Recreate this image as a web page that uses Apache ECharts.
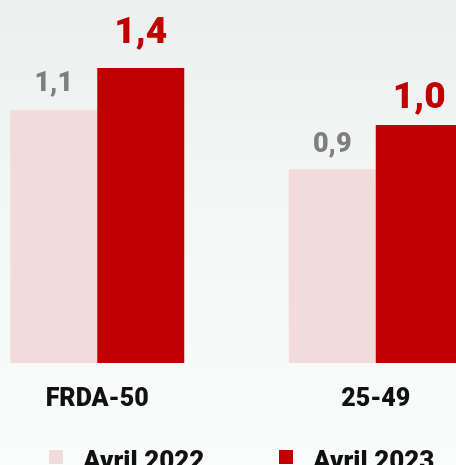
<!DOCTYPE html>
<html>
<head>
<meta charset="utf-8">
<title>Avril 2022 / Avril 2023</title>
<script src="https://cdn.jsdelivr.net/npm/echarts@6/dist/echarts.min.js"></script>
<style>
  html, body {
    margin: 0;
    padding: 0;
  }
  body {
    background: linear-gradient(to bottom, #edefef 0%, #f5f6f6 45%, #fafbfb 100%);
  }
  #chart {
    width: 456px;
    height: 465px;
  }
</style>
</head>
<body>
<div id="chart"></div>
<script>
// catégories et séries
const categories = ['FRDA-50', '25-49']
const seriesNames = ['Avril 2022', 'Avril 2023']
// valeurs affichées au-dessus des barres
const labels2022 = ['1,1', '0,9']
const labels2023 = ['1,4', '1,0']
// hauteur des barres (le graphique source n'est pas à l'échelle)
const heights2022 = [1.2, 0.92]
const heights2023 = [1.4, 1.13]

const FONT = 'Roboto, "Open Sans", sans-serif'

// écart étiquette / barre, par catégorie
function buildData(heights, labels, gaps) {
  return heights.map((v, i) => ({
    value: v,
    label: { formatter: labels[i], distance: gaps[i] }
  }))
}

function legendItem(name, left) {
  return {
    data: [name],
    left: left,
    top: 439,
    padding: 0,
    icon: 'rect',
    itemWidth: 14,
    itemHeight: 14,
    selectedMode: false,
    formatter: '{t|{name}}',
    textStyle: {
      rich: {
        t: {
          color: '#111',
          fontFamily: FONT,
          fontWeight: 900,
          fontSize: 26,
          lineHeight: 26,
          padding: [10, 0, 0, 15]
        }
      }
    }
  }
}

const chart = echarts.init(document.getElementById('chart'))
const option = {
  backgroundColor: 'transparent',
  animation: false,
  grid: {
    left: -42,
    width: 557,
    top: 47,
    bottom: 102,
    containLabel: false,
    outerBoundsMode: 'none'
  },
  legend: [legendItem(seriesNames[0], 49), legendItem(seriesNames[1], 279)],
  xAxis: {
    type: 'category',
    data: categories,
    axisLine: { show: false },
    axisTick: { show: false },
    axisLabel: {
      margin: 24,
      color: '#111',
      fontFamily: FONT,
      fontWeight: 900,
      fontSize: 25
    }
  },
  yAxis: {
    type: 'value',
    min: 0,
    max: 1.5,
    show: false,
    splitLine: { show: false }
  },
  series: [
    {
      name: seriesNames[0],
      type: 'bar',
      barWidth: 87,
      barGap: '0%',
      itemStyle: { color: '#f2dcdb' },
      label: {
        show: true,
        position: 'top',
        color: '#7f7f7f',
        fontFamily: FONT,
        fontWeight: 900,
        fontSize: 27
      },
      data: buildData(heights2022, labels2022, [12, 10])
    },
    {
      name: seriesNames[1],
      type: 'bar',
      barWidth: 87,
      itemStyle: { color: '#c00000' },
      label: {
        show: true,
        position: 'top',
        color: '#c00000',
        fontFamily: FONT,
        fontWeight: 900,
        fontSize: 37
      },
      data: buildData(heights2023, labels2023, [16, 8])
    }
  ]
}
chart.setOption(option)
</script>
</body>
</html>
